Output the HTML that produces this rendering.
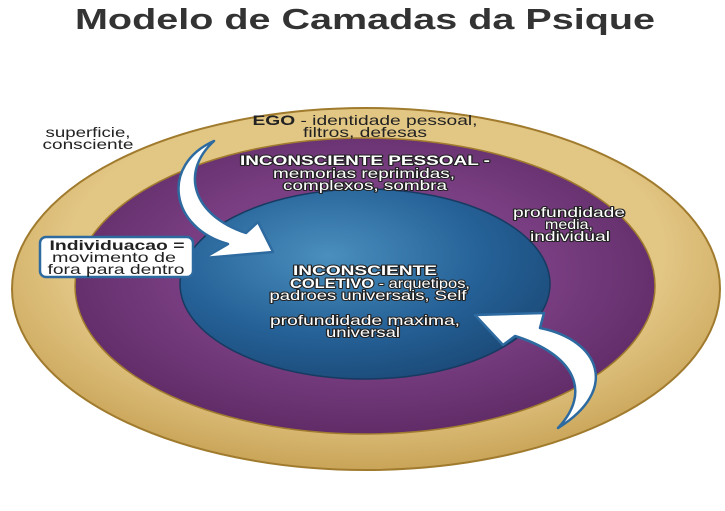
<!DOCTYPE html>
<html><head><meta charset="utf-8"><style>
html,body{margin:0;padding:0;background:#fff;}
body{width:725px;height:506px;overflow:hidden;font-family:"Liberation Sans",Arial,sans-serif;}
</style></head><body>
<svg width="725" height="506" viewBox="0 0 725 506" xmlns="http://www.w3.org/2000/svg">
<defs>
<radialGradient id="gold" cx="50%" cy="40%" r="60%">
<stop offset="0.7" stop-color="#e2c684"/><stop offset="1" stop-color="#c9a458"/></radialGradient>
<radialGradient id="purp" cx="50%" cy="45%" r="60%">
<stop offset="0.5" stop-color="#7a3f83"/><stop offset="1" stop-color="#5b2862"/></radialGradient>
<radialGradient id="blue" cx="40%" cy="35%" r="70%">
<stop offset="0" stop-color="#4a8fbd"/><stop offset="0.6" stop-color="#256197"/><stop offset="1" stop-color="#1b4a78"/></radialGradient>
</defs>
<text x="365" y="29" text-anchor="middle" font-size="29" font-weight="bold" fill="#333" textLength="580" lengthAdjust="spacingAndGlyphs">Modelo de Camadas da Psique</text>
<ellipse cx="366" cy="289" rx="354" ry="181" fill="url(#gold)" stroke="#a07b2e" stroke-width="2"/>
<ellipse cx="365" cy="286" rx="290" ry="148" fill="url(#purp)" stroke="#a07b2e" stroke-width="1.5"/>
<ellipse cx="365" cy="284" rx="185" ry="95" fill="url(#blue)" stroke="#173a60" stroke-width="1.5"/>
<g font-size="14" fill="#222" text-anchor="middle">
<text x="88" y="137" textLength="85" lengthAdjust="spacingAndGlyphs">superficie,</text>
<text x="88" y="149" textLength="91" lengthAdjust="spacingAndGlyphs">consciente</text>
<text x="365" y="125" textLength="225" lengthAdjust="spacingAndGlyphs"><tspan font-weight="bold">EGO</tspan> - identidade pessoal,</text>
<text x="365" y="137" textLength="124" lengthAdjust="spacingAndGlyphs">filtros, defesas</text>
</g>
<g font-size="14" fill="#fff" text-anchor="middle" stroke="#222" stroke-width="2" paint-order="stroke" stroke-linejoin="round">
<text x="365" y="165" font-weight="bold" textLength="250" lengthAdjust="spacingAndGlyphs">INCONSCIENTE PESSOAL -</text>
<text x="364" y="178" textLength="182" lengthAdjust="spacingAndGlyphs">memorias reprimidas,</text>
<text x="365" y="190" textLength="164" lengthAdjust="spacingAndGlyphs">complexos, sombra</text>
<text x="569" y="217" textLength="112" lengthAdjust="spacingAndGlyphs">profundidade</text>
<text x="569" y="229" textLength="48" lengthAdjust="spacingAndGlyphs">media,</text>
<text x="570" y="241" textLength="80" lengthAdjust="spacingAndGlyphs">individual</text>
<text x="365" y="275" font-weight="bold" textLength="144" lengthAdjust="spacingAndGlyphs">INCONSCIENTE</text>
<text x="380" y="288" textLength="180" lengthAdjust="spacingAndGlyphs"><tspan font-weight="bold">COLETIVO</tspan> - arquetipos,</text>
<text x="368" y="300" textLength="197" lengthAdjust="spacingAndGlyphs">padroes universais, Self</text>
<text x="365" y="325" textLength="190" lengthAdjust="spacingAndGlyphs">profundidade maxima,</text>
<text x="363" y="337" textLength="74" lengthAdjust="spacingAndGlyphs">universal</text>
</g>
<path d="M214,141 C160,165 170,228 228,244 L204,258 L273,252 L258,222 L246,233 C192,215 180,172 214,141 Z" fill="#fff" stroke="#2d6aa0" stroke-width="2.5" stroke-linejoin="round"/>
<path d="M558,428 C620,390 600,340 540,328 L544,313 L475,315 L503,345 L515,336 C575,355 592,392 558,428 Z" fill="#fff" stroke="#2d6aa0" stroke-width="2.5" stroke-linejoin="round"/>
<rect x="40" y="237" width="153" height="40" rx="6" fill="#fff" stroke="#2d6aa0" stroke-width="2.5"/>
<g font-size="14" fill="#222" text-anchor="middle">
<text x="117" y="250" font-weight="bold" textLength="135" lengthAdjust="spacingAndGlyphs">Individuacao =</text>
<text x="114" y="262" textLength="124" lengthAdjust="spacingAndGlyphs">movimento de</text>
<text x="116" y="274" textLength="137" lengthAdjust="spacingAndGlyphs">fora para dentro</text>
</g>
</svg>
</body></html>
